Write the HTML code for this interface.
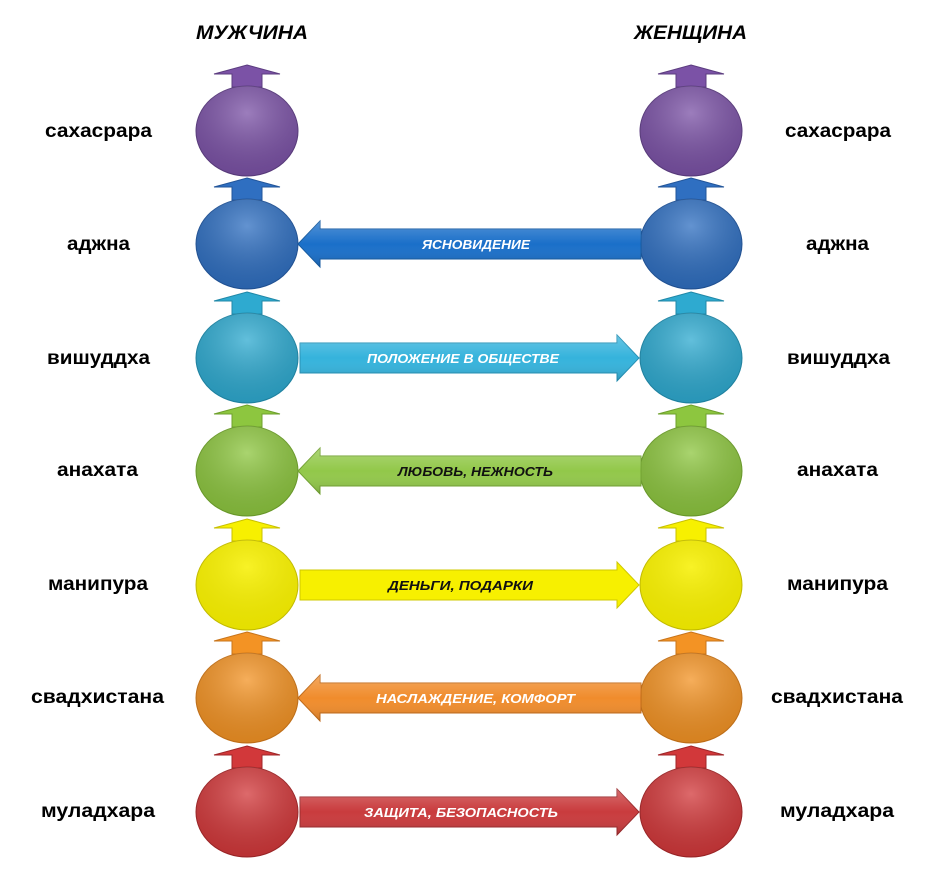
<!DOCTYPE html>
<html><head><meta charset="utf-8"><style>
html,body{margin:0;padding:0;background:#fff;width:927px;height:888px;overflow:hidden}
svg{display:block}
.lb{font-family:"Liberation Sans",sans-serif;font-weight:bold;font-size:19px;fill:#000}
.t{font-family:"Liberation Sans",sans-serif;font-weight:bold;font-style:italic;font-size:19px;fill:#000}
.a{font-family:"Liberation Sans",sans-serif;font-weight:bold;font-style:italic;font-size:12.5px}
</style></head><body>
<svg width="927" height="888" viewBox="0 0 927 888" xmlns="http://www.w3.org/2000/svg">
<defs>
<radialGradient id="sh" cx="0.5" cy="0.3" r="0.7"><stop offset="0" stop-color="#fff" stop-opacity="0.25"/><stop offset="1" stop-color="#000" stop-opacity="0.12"/></radialGradient>
<linearGradient id="ah" x1="0" y1="0" x2="0" y2="1"><stop offset="0" stop-color="#fff" stop-opacity="0.25"/><stop offset="0.5" stop-color="#fff" stop-opacity="0"/><stop offset="1" stop-color="#000" stop-opacity="0.15"/></linearGradient>
</defs>
<text class="t" x="196" y="39" textLength="112" lengthAdjust="spacingAndGlyphs">МУЖЧИНА</text>
<text class="t" x="634" y="39" textLength="113" lengthAdjust="spacingAndGlyphs">ЖЕНЩИНА</text>

<!-- rows -->
<g id="rows">
<!-- row 0 purple cy=131 -->
<g fill="#7b52a6" stroke="#5c3d80" stroke-width="1">
<path d="M247 65 L280 74 L262 74 L262 87 L232 87 L232 74 L214 74 Z"/><path d="M691 65 L724 74 L706 74 L706 87 L676 87 L676 74 L658 74 Z"/>
<ellipse cx="247" cy="131" rx="51" ry="45"/><ellipse cx="691" cy="131" rx="51" ry="45"/>
</g>
<ellipse cx="247" cy="131" rx="51" ry="45" fill="url(#sh)"/><ellipse cx="691" cy="131" rx="51" ry="45" fill="url(#sh)"/>

<!-- row 1 blue cy=244 -->
<g fill="#2f6fc1" stroke="#22559a" stroke-width="1">
<path d="M247 178 L280 187 L262 187 L262 200 L232 200 L232 187 L214 187 Z"/><path d="M691 178 L724 187 L706 187 L706 200 L676 200 L676 187 L658 187 Z"/>
<ellipse cx="247" cy="244" rx="51" ry="45"/><ellipse cx="691" cy="244" rx="51" ry="45"/>
</g>
<ellipse cx="247" cy="244" rx="51" ry="45" fill="url(#sh)"/><ellipse cx="691" cy="244" rx="51" ry="45" fill="url(#sh)"/>
<path d="M298 244 L320 221 L320 229 L641 229 L641 259 L320 259 L320 267 Z" fill="#1a6fc9" stroke="#155aa0"/>
<path d="M298 244 L320 221 L320 229 L641 229 L641 259 L320 259 L320 267 Z" fill="url(#ah)"/>
<text class="a" x="422" y="249" fill="#fff" textLength="108" lengthAdjust="spacingAndGlyphs">ЯСНОВИДЕНИЕ</text>

<!-- row 2 cyan cy=358 -->
<g fill="#2eaad0" stroke="#2088a8" stroke-width="1">
<path d="M247 292 L280 301 L262 301 L262 314 L232 314 L232 301 L214 301 Z"/><path d="M691 292 L724 301 L706 301 L706 314 L676 314 L676 301 L658 301 Z"/>
<ellipse cx="247" cy="358" rx="51" ry="45"/><ellipse cx="691" cy="358" rx="51" ry="45"/>
</g>
<ellipse cx="247" cy="358" rx="51" ry="45" fill="url(#sh)"/><ellipse cx="691" cy="358" rx="51" ry="45" fill="url(#sh)"/>
<path d="M300 343 L617 343 L617 335 L639 358 L617 381 L617 373 L300 373 Z" fill="#35b3dc" stroke="#2490b5"/>
<path d="M300 343 L617 343 L617 335 L639 358 L617 381 L617 373 L300 373 Z" fill="url(#ah)"/>
<text class="a" x="367" y="363" fill="#fff" textLength="192" lengthAdjust="spacingAndGlyphs">ПОЛОЖЕНИЕ В ОБЩЕСТВЕ</text>

<!-- row 3 green cy=471 -->
<g fill="#8dc63f" stroke="#6ea02c" stroke-width="1">
<path d="M247 405 L280 414 L262 414 L262 427 L232 427 L232 414 L214 414 Z"/><path d="M691 405 L724 414 L706 414 L706 427 L676 427 L676 414 L658 414 Z"/>
<ellipse cx="247" cy="471" rx="51" ry="45"/><ellipse cx="691" cy="471" rx="51" ry="45"/>
</g>
<ellipse cx="247" cy="471" rx="51" ry="45" fill="url(#sh)"/><ellipse cx="691" cy="471" rx="51" ry="45" fill="url(#sh)"/>
<path d="M298 471 L320 448 L320 456 L641 456 L641 486 L320 486 L320 494 Z" fill="#92c84a" stroke="#72a232"/>
<path d="M298 471 L320 448 L320 456 L641 456 L641 486 L320 486 L320 494 Z" fill="url(#ah)"/>
<text class="a" x="398" y="476" fill="#111" textLength="155" lengthAdjust="spacingAndGlyphs">ЛЮБОВЬ,  НЕЖНОСТЬ</text>

<!-- row 4 yellow cy=585 -->
<g fill="#f7f000" stroke="#c8c000" stroke-width="1">
<path d="M247 519 L280 528 L262 528 L262 541 L232 541 L232 528 L214 528 Z"/><path d="M691 519 L724 528 L706 528 L706 541 L676 541 L676 528 L658 528 Z"/>
<ellipse cx="247" cy="585" rx="51" ry="45"/><ellipse cx="691" cy="585" rx="51" ry="45"/>
</g>
<ellipse cx="247" cy="585" rx="51" ry="45" fill="url(#sh)" opacity="0.6"/><ellipse cx="691" cy="585" rx="51" ry="45" fill="url(#sh)" opacity="0.6"/>
<path d="M300 570 L617 570 L617 562 L639 585 L617 608 L617 600 L300 600 Z" fill="#f7f000" stroke="#cfc800"/>
<text class="a" x="388" y="590" fill="#111" textLength="145" lengthAdjust="spacingAndGlyphs">ДЕНЬГИ,  ПОДАРКИ</text>

<!-- row 5 orange cy=698 -->
<g fill="#f39324" stroke="#c8741a" stroke-width="1">
<path d="M247 632 L280 641 L262 641 L262 654 L232 654 L232 641 L214 641 Z"/><path d="M691 632 L724 641 L706 641 L706 654 L676 654 L676 641 L658 641 Z"/>
<ellipse cx="247" cy="698" rx="51" ry="45"/><ellipse cx="691" cy="698" rx="51" ry="45"/>
</g>
<ellipse cx="247" cy="698" rx="51" ry="45" fill="url(#sh)"/><ellipse cx="691" cy="698" rx="51" ry="45" fill="url(#sh)"/>
<path d="M298 698 L320 675 L320 683 L641 683 L641 713 L320 713 L320 721 Z" fill="#f08c2c" stroke="#c06a18"/>
<path d="M298 698 L320 675 L320 683 L641 683 L641 713 L320 713 L320 721 Z" fill="url(#ah)"/>
<text class="a" x="376" y="703" fill="#fff" textLength="199" lengthAdjust="spacingAndGlyphs">НАСЛАЖДЕНИЕ,  КОМФОРТ</text>

<!-- row 6 red cy=812 -->
<g fill="#d2383a" stroke="#a02628" stroke-width="1">
<path d="M247 746 L280 755 L262 755 L262 768 L232 768 L232 755 L214 755 Z"/><path d="M691 746 L724 755 L706 755 L706 768 L676 768 L676 755 L658 755 Z"/>
<ellipse cx="247" cy="812" rx="51" ry="45"/><ellipse cx="691" cy="812" rx="51" ry="45"/>
</g>
<ellipse cx="247" cy="812" rx="51" ry="45" fill="url(#sh)"/><ellipse cx="691" cy="812" rx="51" ry="45" fill="url(#sh)"/>
<path d="M300 797 L617 797 L617 789 L639 812 L617 835 L617 827 L300 827 Z" fill="#c93b3d" stroke="#9a2a2c"/>
<path d="M300 797 L617 797 L617 789 L639 812 L617 835 L617 827 L300 827 Z" fill="url(#ah)"/>
<text class="a" x="364" y="817" fill="#fff" textLength="194" lengthAdjust="spacingAndGlyphs">ЗАЩИТА,  БЕЗОПАСНОСТЬ</text>
</g>

<!-- labels -->
<text class="lb" x="45" y="137" textLength="107" lengthAdjust="spacingAndGlyphs">сахасрара</text>
<text class="lb" x="785" y="137" textLength="106" lengthAdjust="spacingAndGlyphs">сахасрара</text>
<text class="lb" x="67" y="250" textLength="63" lengthAdjust="spacingAndGlyphs">аджна</text>
<text class="lb" x="806" y="250" textLength="63" lengthAdjust="spacingAndGlyphs">аджна</text>
<text class="lb" x="47" y="364" textLength="103" lengthAdjust="spacingAndGlyphs">вишуддха</text>
<text class="lb" x="787" y="364" textLength="103" lengthAdjust="spacingAndGlyphs">вишуддха</text>
<text class="lb" x="57" y="476" textLength="81" lengthAdjust="spacingAndGlyphs">анахата</text>
<text class="lb" x="797" y="476" textLength="81" lengthAdjust="spacingAndGlyphs">анахата</text>
<text class="lb" x="48" y="590" textLength="100" lengthAdjust="spacingAndGlyphs">манипура</text>
<text class="lb" x="787" y="590" textLength="101" lengthAdjust="spacingAndGlyphs">манипура</text>
<text class="lb" x="31" y="703" textLength="133" lengthAdjust="spacingAndGlyphs">свадхистана</text>
<text class="lb" x="771" y="703" textLength="132" lengthAdjust="spacingAndGlyphs">свадхистана</text>
<text class="lb" x="41" y="817" textLength="114" lengthAdjust="spacingAndGlyphs">муладхара</text>
<text class="lb" x="780" y="817" textLength="114" lengthAdjust="spacingAndGlyphs">муладхара</text>
</svg>
</body></html>
